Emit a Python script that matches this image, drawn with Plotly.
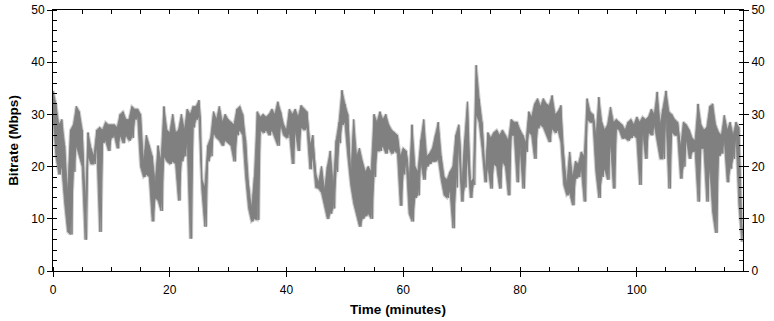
import plotly.graph_objects as go

# Bitrate trace: band top (hi) and band bottom (lo)
# sampled every 0.5 minutes starting at t = 0.
bitrate_hi = [
    34.5, 32, 28, 29, 24, 15, 27, 28, 31.5, 30.5,       # 0 - 4.5
    27, 12, 26.5, 23.5, 22, 27, 27.5, 27, 28.5, 28,      # 5 - 9.5
    28, 28, 27.5, 30, 30.5, 29, 29, 31.5, 31, 31,        # 10 - 14.5
    30, 21, 26, 24, 22, 17, 24, 21, 31.5, 27,            # 15 - 19.5
    26.5, 30, 26.5, 27, 30, 27, 31, 30, 31.5, 31.5,      # 20 - 24.5
    32.7, 17.5, 16, 24, 25.5, 30.5, 29, 31.5, 28.5, 30,  # 25 - 29.5
    29, 28.5, 28, 31, 31.5, 30, 25, 16.5, 12, 18,        # 30 - 34.5
    30.5, 29.5, 30, 29.5, 30, 31, 30, 32.4, 30.5, 28,    # 35 - 39.5
    27, 31, 30, 31, 29.5, 31.7, 31, 30.5, 24, 26,        # 40 - 44.5
    18.5, 17, 20, 15.5, 20, 23, 16.5, 25, 28.5, 34.6,    # 45 - 49.5
    32, 30, 18, 29, 22, 23.5, 21, 19, 20, 19,            # 50 - 54.5
    30, 28.5, 30.5, 29, 30, 28, 27, 26.5, 26, 22,        # 55 - 59.5
    23.5, 23, 17, 28, 20, 19, 25, 29, 22, 22.5,          # 60 - 64.5
    23.5, 26, 28.5, 22, 18, 17.5, 19, 20, 26, 28,        # 65 - 69.5
    15.8, 25, 32.4, 17, 17.7, 39.4, 33, 28.5, 18.4, 26.5,  # 70 - 74.5
    25.5, 26.5, 27, 26, 27, 26, 25, 29, 28.5, 28.5,      # 75 - 79.5
    27, 26, 24.5, 30.5, 29.5, 32, 33, 31.5, 33, 32,      # 80 - 84.5
    31.7, 33.6, 30, 30.5, 31.7, 22, 16.5, 22.8, 18, 21,  # 85 - 89.5
    20.5, 22.8, 22, 33, 30.5, 30, 25.4, 33.3, 28.5, 27,  # 90 - 94.5
    28, 31.4, 28.5, 29, 28.5, 28, 27, 28.5, 29, 28,      # 95 - 99.5
    29.5, 28.5, 29.5, 29, 29.5, 31, 30, 34.3, 28, 31,    # 100 - 104.5
    34.5, 30.5, 30, 29, 28.5, 23.5, 28.5, 28, 27, 25.4,  # 105 - 109.5
    25, 32, 28, 27, 27.5, 31.5, 32, 28, 26.6, 26,        # 110 - 114.5
    29.8, 27, 28.5, 26, 28.5, 27.5, 9.4,                 # 115 - 118
]
bitrate_lo = [
    30, 22, 18.5, 20, 13, 7.5, 7, 19, 24, 22,
    20, 6, 22, 20.5, 20.5, 24, 7.5, 24.5, 25, 23,
    25.5, 26, 23.5, 26, 24.5, 26, 25, 25.5, 29, 29.5,
    20, 18, 18.5, 18, 9.5, 14, 13.5, 11.5, 22, 21,
    20.5, 21, 20.5, 13.5, 21, 22, 24.5, 6.2, 27.5, 29,
    29.5, 15.5, 8.5, 21, 22, 26.5, 25.5, 25, 24, 25,
    24.5, 24, 21, 26, 27, 26, 18, 12, 9.5, 10,
    9.8, 27, 26.5, 27, 26, 27, 25.5, 24, 28, 26,
    25.5, 26.5, 20.5, 27, 23, 27.5, 27, 27.5, 19.5, 22,
    16, 15.8, 15, 12.5, 10, 11, 12, 19, 24.5, 28,
    28.5, 22, 16.5, 13, 11, 8.5, 10, 10.5, 11, 10,
    18, 23, 23, 24, 22.5, 23.5, 22.5, 23, 22.5, 12.5,
    18.5, 21, 11, 9.5, 14, 14.5, 21, 17.5, 20, 20.5,
    21, 21, 21.5, 17.5, 14.5, 14, 15.5, 8.2, 16, 24.5,
    13.3, 16, 22, 14, 16.5, 30, 28.5, 23.5, 17, 20,
    15.8, 20.5, 20, 15.8, 21, 20, 14.5, 26, 26, 17,
    24, 15.8, 22.8, 26.6, 26, 21.5, 27.3, 28, 27.5, 26,
    24.7, 27.3, 26.5, 27, 24.7, 16.5, 14.5, 15, 12.6, 17.7,
    18, 19.6, 13.3, 29, 28.5, 28.5, 19, 14, 18, 19.6,
    17.5, 24.7, 15.8, 27.3, 27, 25.4, 25.5, 25, 25.5, 26,
    25.4, 16.5, 27, 21.5, 26.6, 26, 28, 24.5, 21.5, 21.5,
    29.8, 15.8, 26.6, 26, 26, 17.7, 20, 25.4, 21.5, 22.8,
    23, 13.3, 23.5, 23.5, 13.3, 20, 11.3, 7.3, 22, 22.5,
    25, 17, 19.6, 21.5, 26, 12.6, 5.6,
]
sample_step_min = 0.5
time_min = [i * sample_step_min for i in range(len(bitrate_hi))]

# interleave band top and bottom into one dense zig-zag trace
trace_t, trace_v = [], []
for t, hi, lo in zip(time_min, bitrate_hi, bitrate_lo):
    trace_t += [t, t + sample_step_min / 2]
    trace_v += [hi, lo]

x_range = [0, 118.2]
y_range = [0, 50]
LIGHT = "#d0d0d0"
DARK = "#808080"

fig = go.Figure()
# light halo (band + outline)
fig.add_trace(go.Scatter(x=time_min, y=bitrate_lo, mode="lines",
                         line=dict(color=LIGHT, width=3), hoverinfo="skip"))
fig.add_trace(go.Scatter(x=time_min, y=bitrate_hi, mode="lines",
                         fill="tonexty", fillcolor=LIGHT,
                         line=dict(color=LIGHT, width=3), hoverinfo="skip"))
fig.add_trace(go.Scatter(x=trace_t, y=trace_v, mode="lines",
                         line=dict(color=LIGHT, width=3), hoverinfo="skip"))
# dark band
fig.add_trace(go.Scatter(x=time_min, y=bitrate_lo, mode="lines",
                         line=dict(color=DARK, width=0.8), hoverinfo="skip"))
fig.add_trace(go.Scatter(x=time_min, y=bitrate_hi, mode="lines",
                         fill="tonexty", fillcolor=DARK,
                         line=dict(color=DARK, width=0.8), hoverinfo="skip"))
fig.add_trace(go.Scatter(x=trace_t, y=trace_v, mode="lines",
                         line=dict(color=DARK, width=1), hoverinfo="skip"))

font = dict(family="Liberation Sans, Arial, sans-serif", size=12, color="#000000")
title_font = dict(family="Liberation Sans, Arial, sans-serif", size=13.5, color="#000000")
common = dict(showgrid=False, zeroline=False, linecolor="#000000", linewidth=1,
              tickcolor="#000000", tickwidth=1, automargin=False)

fig.update_layout(
    width=774, height=321,
    margin=dict(l=53, r=31, t=10, b=50, autoexpand=False),
    paper_bgcolor="#ffffff", plot_bgcolor="#ffffff",
    showlegend=False, font=font,
    xaxis=dict(range=x_range, dtick=20, tick0=0, ticks="outside", ticklen=5,
               ticklabelstandoff=3, showline=True,
               minor=dict(dtick=5, ticks="inside", ticklen=4, tickcolor="#000000"),
               title=dict(text="<b>Time (minutes)</b>", standoff=8, font=title_font), **common),
    xaxis2=dict(range=x_range, dtick=20, tick0=0, overlaying="x", side="top", anchor="y",
                ticks="inside", ticklen=4, showline=True, showticklabels=False,
                minor=dict(dtick=5, ticks="inside", ticklen=4, tickcolor="#000000"), **common),
    xaxis3=dict(range=x_range, dtick=20, tick0=0, overlaying="x", side="bottom", anchor="y",
                ticks="inside", ticklen=4, showline=False, showticklabels=False, **common),
    yaxis=dict(range=y_range, dtick=10, tick0=0, ticks="outside", ticklen=5,
               showline=True, minor=dict(dtick=2, ticks="inside", ticklen=4, tickcolor="#000000"),
               title=dict(text="<b>Bitrate (Mbps)</b>", standoff=9, font=title_font), **common),
    yaxis2=dict(range=y_range, dtick=10, tick0=0, overlaying="y", side="right", anchor="x",
                ticks="outside", ticklen=5, showline=True, showticklabels=True,
                minor=dict(dtick=2, ticks="inside", ticklen=4, tickcolor="#000000"), **common),
    yaxis3=dict(range=y_range, dtick=10, tick0=0, overlaying="y", side="left", anchor="x",
                ticks="inside", ticklen=4, showline=False, showticklabels=False, **common),
    yaxis4=dict(range=y_range, dtick=10, tick0=0, overlaying="y", side="right", anchor="x",
                ticks="inside", ticklen=4, showline=False, showticklabels=False, **common),
)
# empty traces so the overlay axes are drawn
for xa, ya in [("x2", "y2"), ("x3", "y3"), ("x", "y4")]:
    fig.add_trace(go.Scatter(x=[], y=[], xaxis=xa, yaxis=ya, hoverinfo="skip"))

fig.write_html(
    "out.html",
    config={"displayModeBar": False},
    post_script="document.body.style.margin='0';document.body.style.padding='0';",
)
